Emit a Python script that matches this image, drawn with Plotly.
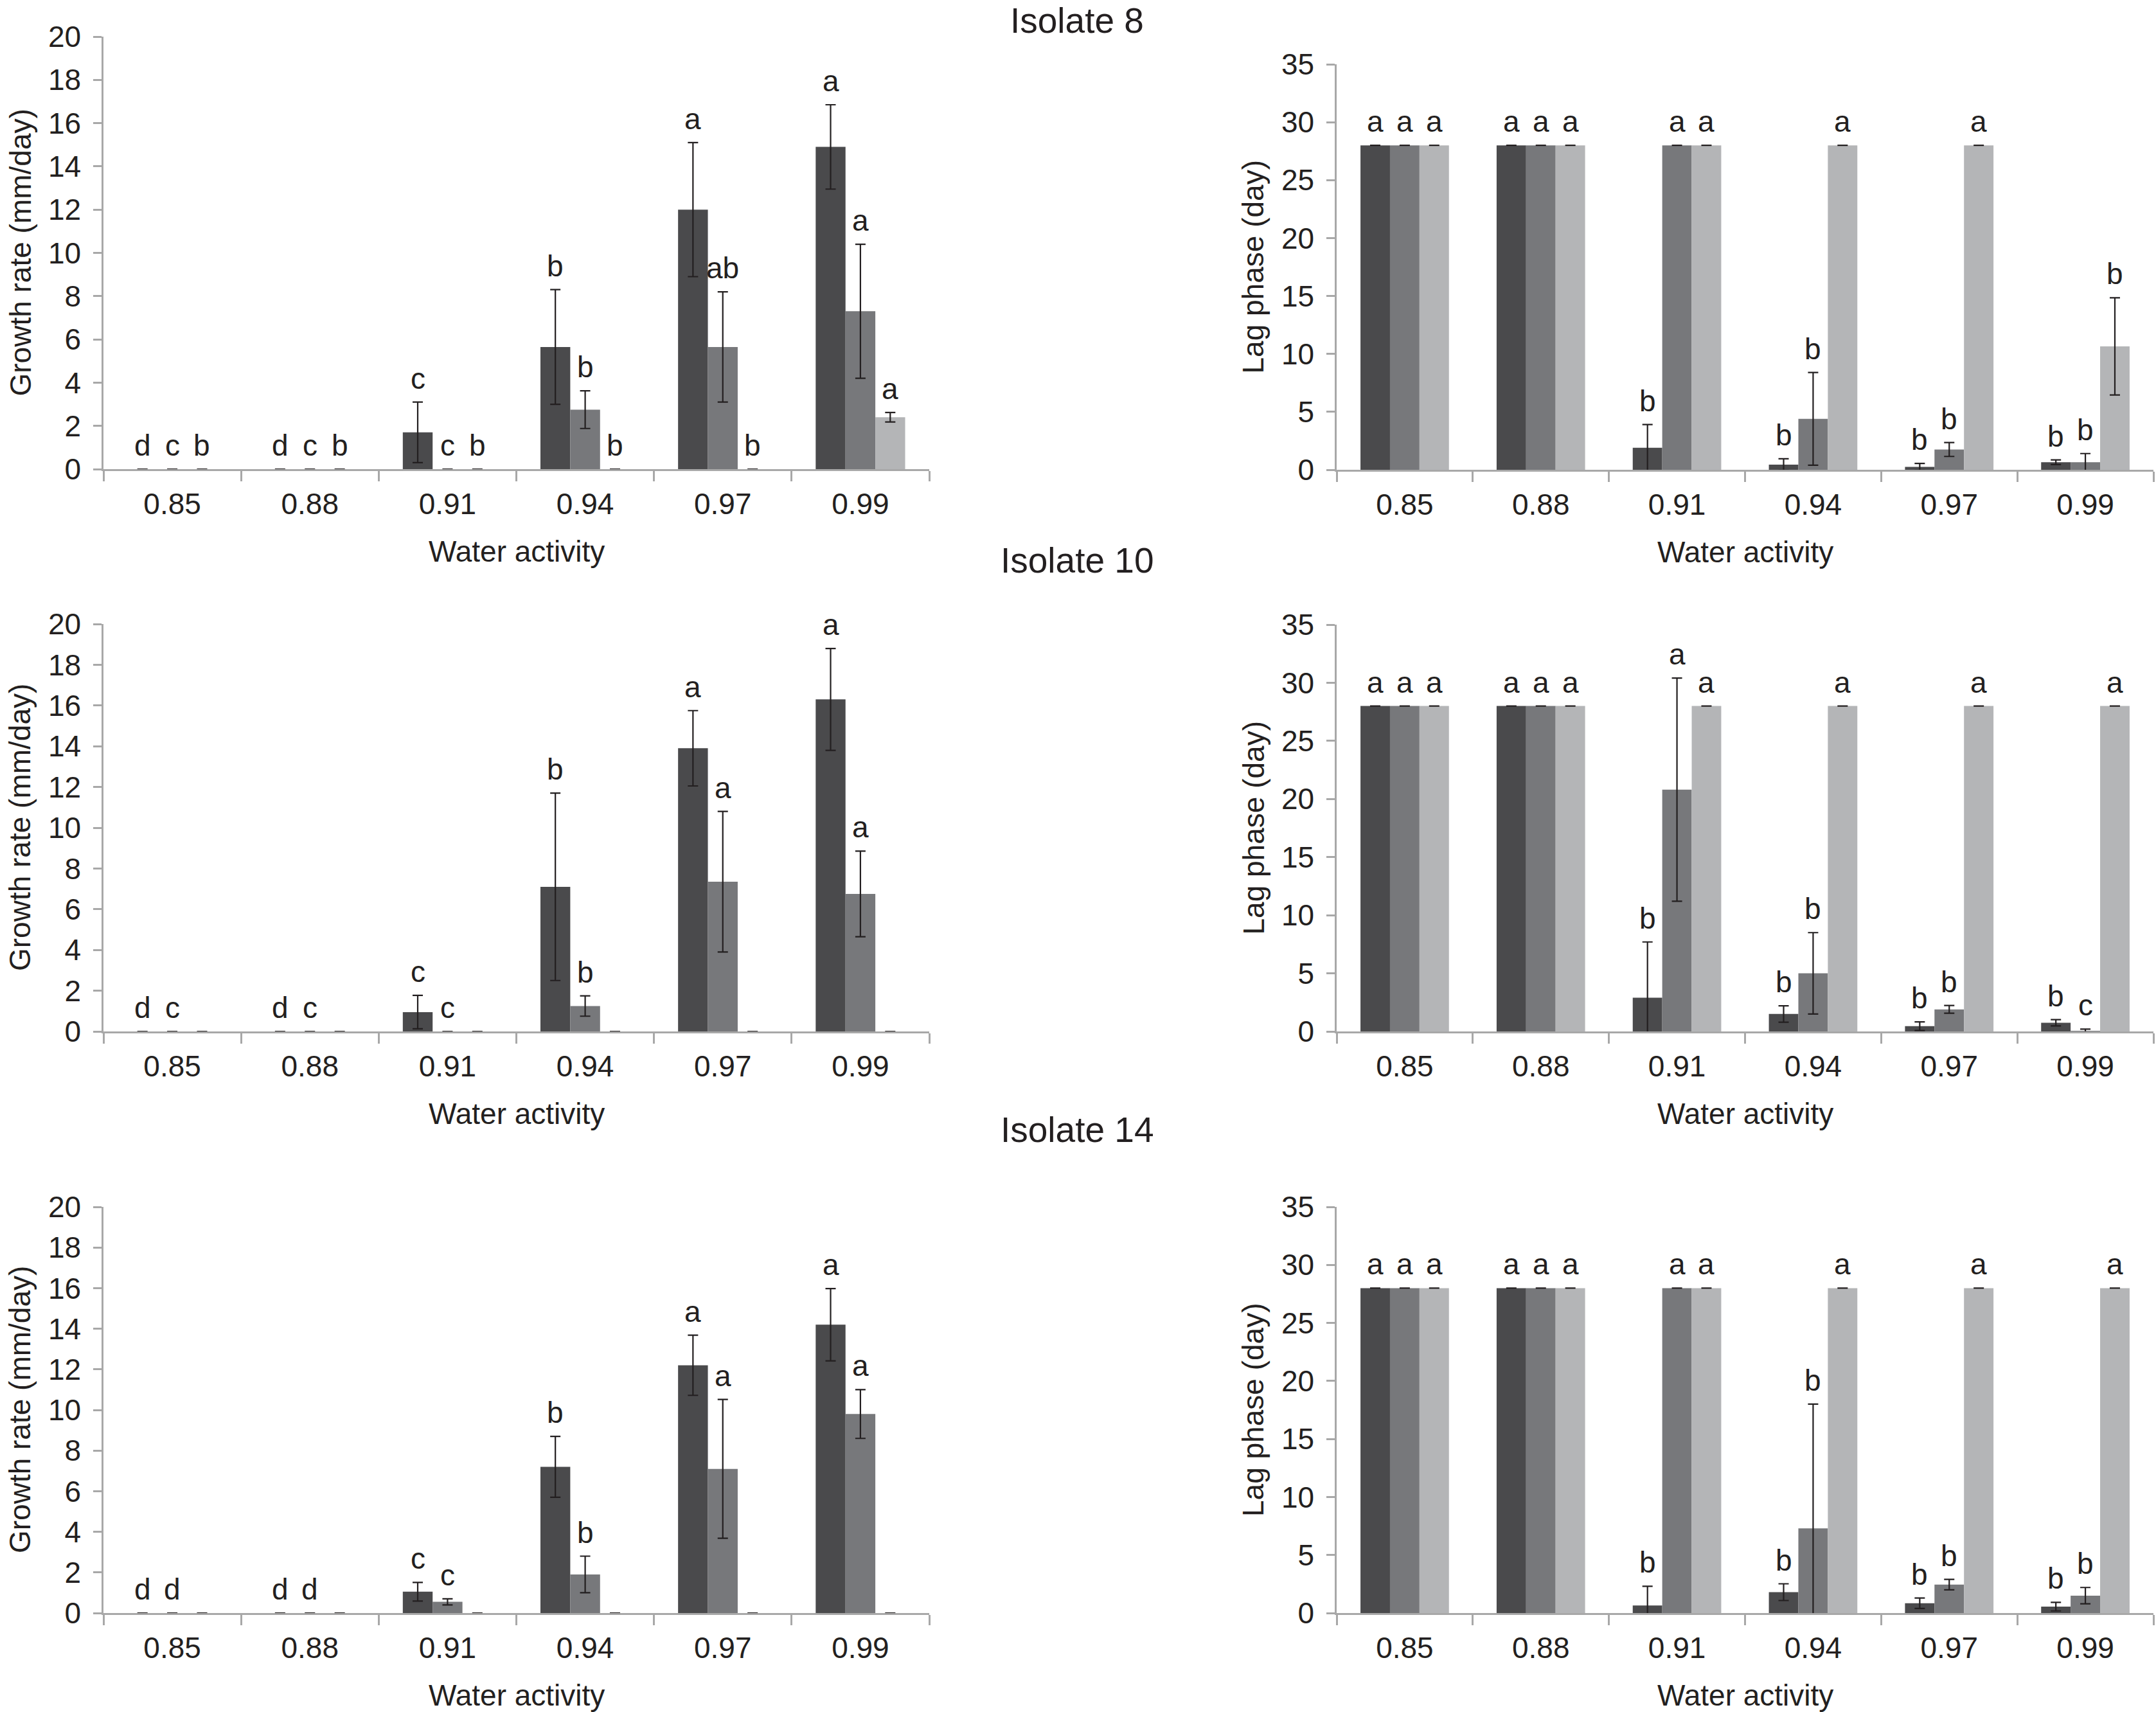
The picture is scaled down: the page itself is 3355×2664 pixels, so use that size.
import plotly.graph_objects as go

W, H = 3355, 2664

water_activity = ["0.85", "0.88", "0.91", "0.94", "0.97", "0.99"]
row_titles = ["Isolate 8", "Isolate 10", "Isolate 14"]
growth_title = "Growth rate (mm/day)"
lag_title = "Lag phase (day)"
x_title = "Water activity"

# ---- Isolate 8 : growth rate ----
i8_growth_dark = [0, 0, 1.7, 5.65, 12.0, 14.9]
i8_growth_dark_err = [None, None, 1.4, 2.65, 3.1, 1.95]
i8_growth_mid = [0, 0, 0, 2.75, 5.65, 7.3]
i8_growth_mid_err = [None, None, None, 0.87, 2.55, 3.1]
i8_growth_light = [0, 0, 0, 0, 0, 2.4]
i8_growth_light_err = [None, None, None, None, None, 0.22]
i8_growth_dark_let = ["d", "d", "c", "b", "a", "a"]
i8_growth_mid_let = ["c", "c", "c", "b", "ab", "a"]
i8_growth_light_let = ["b", "b", "b", "b", "b", "a"]

# ---- Isolate 8 : lag phase ----
i8_lag_dark = [28, 28, 1.9, 0.45, 0.25, 0.65]
i8_lag_dark_err = [0, 0, 2.0, 0.5, 0.3, 0.2]
i8_lag_mid = [28, 28, 28, 4.4, 1.75, 0.65]
i8_lag_mid_err = [0, 0, 0, 4.0, 0.6, 0.75]
i8_lag_light = [28, 28, 28, 28, 28, 10.65]
i8_lag_light_err = [0, 0, 0, 0, 0, 4.2]
i8_lag_dark_let = ["a", "a", "b", "b", "b", "b"]
i8_lag_mid_let = ["a", "a", "a", "b", "b", "b"]
i8_lag_light_let = ["a", "a", "a", "a", "a", "b"]

# ---- Isolate 10 : growth rate ----
i10_growth_dark = [0, 0, 0.95, 7.1, 13.9, 16.3]
i10_growth_dark_err = [None, None, 0.82, 4.6, 1.85, 2.5]
i10_growth_mid = [0, 0, 0, 1.25, 7.35, 6.75]
i10_growth_mid_err = [None, None, None, 0.5, 3.45, 2.1]
i10_growth_light = [0, 0, 0, 0, 0, 0]
i10_growth_light_err = [None, None, None, None, None, None]
i10_growth_dark_let = ["d", "d", "c", "b", "a", "a"]
i10_growth_mid_let = ["c", "c", "c", "b", "a", "a"]
i10_growth_light_let = ["", "", "", "", "", ""]

# ---- Isolate 10 : lag phase ----
i10_lag_dark = [28, 28, 2.9, 1.5, 0.45, 0.75]
i10_lag_dark_err = [0, 0, 4.8, 0.7, 0.37, 0.27]
i10_lag_mid = [28, 28, 20.8, 5.0, 1.9, 0.05]
i10_lag_mid_err = [0, 0, 9.6, 3.5, 0.33, 0.15]
i10_lag_light = [28, 28, 28, 28, 28, 28]
i10_lag_light_err = [None, None, None, None, None, None]
i10_lag_dark_let = ["a", "a", "b", "b", "b", "b"]
i10_lag_mid_let = ["a", "a", "a", "b", "b", "c"]
i10_lag_light_let = ["a", "a", "a", "a", "a", "a"]

# ---- Isolate 14 : growth rate ----
i14_growth_dark = [0, 0, 1.05, 7.2, 12.2, 14.2]
i14_growth_dark_err = [None, None, 0.46, 1.5, 1.48, 1.78]
i14_growth_mid = [0, 0, 0.55, 1.9, 7.1, 9.8]
i14_growth_mid_err = [None, None, 0.15, 0.9, 3.42, 1.2]
i14_growth_light = [0, 0, 0, 0, 0, 0]
i14_growth_light_err = [None, None, None, None, None, None]
i14_growth_dark_let = ["d", "d", "c", "b", "a", "a"]
i14_growth_mid_let = ["d", "d", "c", "b", "a", "a"]
i14_growth_light_let = ["", "", "", "", "", ""]

# ---- Isolate 14 : lag phase ----
i14_lag_dark = [28, 28, 0.65, 1.8, 0.85, 0.55]
i14_lag_dark_err = [0, 0, 1.65, 0.72, 0.45, 0.37]
i14_lag_mid = [28, 28, 28, 7.3, 2.45, 1.5]
i14_lag_mid_err = [0, 0, 0, 10.7, 0.45, 0.7]
i14_lag_light = [28, 28, 28, 28, 28, 28]
i14_lag_light_err = [0, 0, 0, 0, 0, 0]
i14_lag_dark_let = ["a", "a", "b", "b", "b", "b"]
i14_lag_mid_let = ["a", "a", "a", "b", "b", "b"]
i14_lag_light_let = ["a", "a", "a", "a", "a", "a"]

colors = ["#4a4a4c", "#77787b", "#b4b5b7"]
FONT = "Liberation Sans, Arial, Helvetica, sans-serif"
TXT = "#231f20"
AXC = "#a8a8a8"
FS = 46
BARGAP = 0.35

# layout geometry (pixels in the 3355 x 2664 canvas)
x_left_px = (161, 1446)
x_right_px = (2080, 3351)
rows_px = [
    {"left": (730, 57), "right": (731, 100), "title_y": 28},
    {"left": (1605, 971), "right": (1605, 972), "title_y": 872},
    {"left": (2510, 1878), "right": (2510, 1878), "title_y": 1758},
]

panels = [
    ("growth", [i8_growth_dark, i8_growth_mid, i8_growth_light],
     [i8_growth_dark_err, i8_growth_mid_err, i8_growth_light_err],
     [i8_growth_dark_let, i8_growth_mid_let, i8_growth_light_let]),
    ("lag", [i8_lag_dark, i8_lag_mid, i8_lag_light],
     [i8_lag_dark_err, i8_lag_mid_err, i8_lag_light_err],
     [i8_lag_dark_let, i8_lag_mid_let, i8_lag_light_let]),
    ("growth", [i10_growth_dark, i10_growth_mid, i10_growth_light],
     [i10_growth_dark_err, i10_growth_mid_err, i10_growth_light_err],
     [i10_growth_dark_let, i10_growth_mid_let, i10_growth_light_let]),
    ("lag", [i10_lag_dark, i10_lag_mid, i10_lag_light],
     [i10_lag_dark_err, i10_lag_mid_err, i10_lag_light_err],
     [i10_lag_dark_let, i10_lag_mid_let, i10_lag_light_let]),
    ("growth", [i14_growth_dark, i14_growth_mid, i14_growth_light],
     [i14_growth_dark_err, i14_growth_mid_err, i14_growth_light_err],
     [i14_growth_dark_let, i14_growth_mid_let, i14_growth_light_let]),
    ("lag", [i14_lag_dark, i14_lag_mid, i14_lag_light],
     [i14_lag_dark_err, i14_lag_mid_err, i14_lag_light_err],
     [i14_lag_dark_let, i14_lag_mid_let, i14_lag_light_let]),
]

fig = go.Figure()
annotations = []
layout_axes = {}
bw = (1 - BARGAP) / 3
offsets = [-bw, 0, bw]

for p, (kind, vals, errs, lets) in enumerate(panels):
    row = p // 2
    side = "left" if kind == "growth" else "right"
    xr = x_left_px if side == "left" else x_right_px
    yb, yt = rows_px[row][side]
    n = p + 1
    xa = "x" if n == 1 else f"x{n}"
    ya = "y" if n == 1 else f"y{n}"
    for k in range(3):
        fig.add_trace(go.Bar(
            x=water_activity, y=vals[k], xaxis=xa, yaxis=ya,
            marker=dict(color=colors[k], line=dict(width=0)),
            error_y=dict(type="data", array=errs[k], visible=True,
                         color=TXT, thickness=2.2, width=8),
            showlegend=False, offsetgroup=str(k)))
        for i, t in enumerate(lets[k]):
            if not t:
                continue
            e = errs[k][i] or 0
            annotations.append(dict(
                x=i + offsets[k], y=vals[k][i] + e, xref=xa, yref=ya,
                text=t, showarrow=False, yanchor="middle", yshift=37,
                font=dict(family=FONT, size=FS, color=TXT)))
    ymax = 20 if kind == "growth" else 35
    dt = 2 if kind == "growth" else 5
    layout_axes["xaxis" if n == 1 else f"xaxis{n}"] = dict(
        domain=[xr[0] / W, min(xr[1] / W, 1.0)], anchor=ya, type="category",
        showline=True, linecolor=AXC, linewidth=2.5, ticks="outside",
        tickson="boundaries", ticklen=16, tickcolor=AXC, tickwidth=2.5,
        showgrid=False, zeroline=False, ticklabelstandoff=12,
        automargin=False,
        tickfont=dict(family=FONT, size=FS, color=TXT))
    layout_axes["yaxis" if n == 1 else f"yaxis{n}"] = dict(
        domain=[1 - yb / H, 1 - yt / H], anchor=xa, range=[0, ymax],
        dtick=dt, tick0=0, showline=True, linecolor=AXC, linewidth=2.5,
        ticks="outside", ticklen=13, tickcolor=AXC, tickwidth=2.5,
        showgrid=False, zeroline=False, ticklabelstandoff=10,
        automargin=False,
        tickfont=dict(family=FONT, size=FS, color=TXT))
    # axis titles
    annotations.append(dict(
        x=(xr[0] + xr[1]) / 2 / W, y=1 - (yb + 128) / H, xref="paper",
        yref="paper", text=x_title, showarrow=False, yanchor="middle",
        xanchor="center", font=dict(family=FONT, size=FS, color=TXT)))
    annotations.append(dict(
        x=(xr[0] - 130) / W, y=1 - (yb + yt) / 2 / H, xref="paper",
        yref="paper", text=growth_title if kind == "growth" else lag_title,
        showarrow=False, textangle=-90, xanchor="center", yanchor="middle",
        font=dict(family=FONT, size=FS, color=TXT)))

for r, t in enumerate(row_titles):
    if r == 0:
        annotations.append(dict(
            x=0.4996, y=1.0, xref="paper", yref="paper", borderpad=0,
            text=t, showarrow=False, xanchor="center", yanchor="top",
            font=dict(family=FONT, size=55, color=TXT)))
    else:
        annotations.append(dict(
            x=0.4996, y=1 - rows_px[r]["title_y"] / H, xref="paper",
            yref="paper", text=t, showarrow=False, xanchor="center",
            yanchor="middle", font=dict(family=FONT, size=55, color=TXT)))

fig.update_layout(
    width=W, height=H, margin=dict(l=0, r=0, t=0, b=0, pad=0),
    paper_bgcolor="white", plot_bgcolor="white",
    barmode="group", bargap=BARGAP, bargroupgap=0,
    annotations=annotations, showlegend=False,
    font=dict(family=FONT, size=FS, color=TXT),
    **layout_axes)

fig.write_html("out.html", config={"displayModeBar": False},
               post_script="document.body.style.margin='0';")
